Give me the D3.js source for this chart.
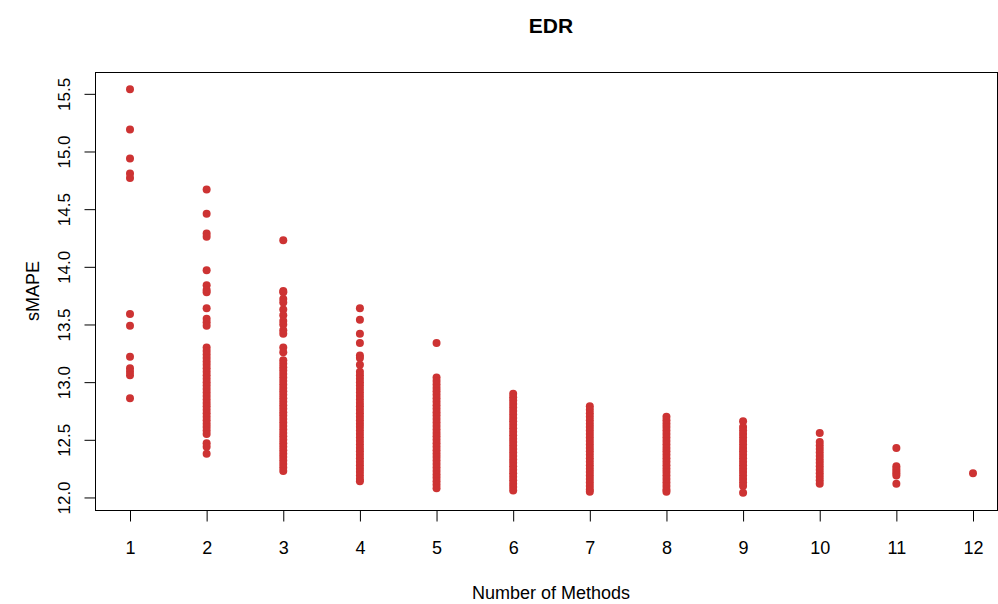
<!DOCTYPE html>
<html lang="en">
<head>
    <meta charset="UTF-8">
    <title>EDR</title>
    <script src="https://d3js.org/d3.v7.min.js"></script>
    <style>
        body { margin: 0; background: #fff; }
        svg text { font-family: "Liberation Sans", Arial, sans-serif; fill: #000; }
        .tick line, .domain { stroke: #000; }
    </style>
</head>
<body>
    <svg width="998" height="604" id="chart"></svg>

    <script>
        // number of methods combined (x categories)
        const methodCounts = [1, 2, 3, 4, 5, 6, 7, 8, 9, 10, 11, 12];
        const yTicks = [12.0, 12.5, 13.0, 13.5, 14.0, 14.5, 15.0, 15.5];

        // sMAPE values, one array per x category
        const smape1 = [15.54, 15.19, 14.94, 14.81, 14.77, 13.59, 13.49, 13.22, 13.12, 13.09, 13.06, 12.86];
        const smape2 = [14.67, 14.46, 14.29, 14.26, 13.97, 13.84, 13.80, 13.78, 13.64, 13.55, 13.52, 13.49,
            13.30, 13.27, 13.24, 13.21, 13.18, 13.15, 13.12, 13.09, 13.06, 13.03, 13.00, 12.97, 12.94,
            12.91, 12.88, 12.85, 12.82, 12.79, 12.76, 12.73, 12.70, 12.67, 12.64, 12.61, 12.58, 12.55,
            12.47, 12.44, 12.38];
        const smape3 = [14.23, 13.79, 13.78, 13.72, 13.69, 13.63, 13.58, 13.53, 13.50, 13.45, 13.42, 13.30, 13.26,
            13.19, 13.16, 13.13, 13.10, 13.07, 13.04, 13.01, 12.98, 12.95, 12.92, 12.89, 12.86, 12.83,
            12.80, 12.77, 12.74, 12.71, 12.68, 12.65, 12.62, 12.59, 12.56, 12.53, 12.50, 12.47, 12.44,
            12.41, 12.38, 12.35, 12.32, 12.29, 12.26, 12.23];
        const smape4 = [13.64, 13.54, 13.42, 13.34, 13.23, 13.21, 13.15,
            13.09, 13.06, 13.03, 13.00, 12.97, 12.94, 12.91, 12.88, 12.85, 12.82, 12.79, 12.76, 12.73,
            12.70, 12.67, 12.64, 12.61, 12.58, 12.55, 12.52, 12.49, 12.46, 12.43, 12.40, 12.37, 12.34,
            12.31, 12.28, 12.25, 12.22, 12.19, 12.16, 12.14];
        const smape5 = [13.34, 13.04, 13.01, 12.98, 12.95, 12.92, 12.89, 12.86, 12.83, 12.80, 12.77, 12.74,
            12.71, 12.68, 12.65, 12.62, 12.59, 12.56, 12.53, 12.50, 12.47, 12.44, 12.41, 12.38, 12.35,
            12.32, 12.29, 12.26, 12.23, 12.20, 12.17, 12.14, 12.11, 12.08];
        const smape6 = [12.90, 12.87, 12.84, 12.81, 12.78, 12.75, 12.72, 12.69, 12.66, 12.63, 12.60, 12.57,
            12.54, 12.51, 12.48, 12.45, 12.42, 12.39, 12.36, 12.33, 12.30, 12.27, 12.24, 12.21, 12.18,
            12.15, 12.12, 12.09, 12.06];
        const smape7 = [12.79, 12.76, 12.73, 12.70, 12.67, 12.64, 12.61, 12.58, 12.55, 12.52, 12.49, 12.46,
            12.43, 12.40, 12.37, 12.34, 12.31, 12.28, 12.25, 12.22, 12.19, 12.16, 12.13, 12.10, 12.07, 12.05];
        const smape8 = [12.70, 12.67, 12.64, 12.61, 12.58, 12.55, 12.52, 12.49, 12.46, 12.43, 12.40, 12.37,
            12.34, 12.31, 12.28, 12.25, 12.22, 12.19, 12.16, 12.13, 12.10, 12.07, 12.05];
        const smape9 = [12.66, 12.61, 12.58, 12.55, 12.52, 12.49, 12.46, 12.43, 12.40, 12.37, 12.34, 12.31,
            12.28, 12.25, 12.22, 12.19, 12.16, 12.13, 12.10, 12.04];
        const smape10 = [12.56, 12.48, 12.45, 12.42, 12.39, 12.36, 12.33, 12.30, 12.27, 12.24, 12.21, 12.18,
            12.15, 12.12];
        const smape11 = [12.43, 12.27, 12.25, 12.23, 12.21, 12.19, 12.12];
        const smape12 = [12.21];

        const allSeries = [smape1, smape2, smape3, smape4, smape5, smape6,
            smape7, smape8, smape9, smape10, smape11, smape12];

        // flatten into points
        const points = [];
        allSeries.forEach((vals, i) => {
            vals.forEach(v => points.push({n: methodCounts[i], v: v}));
        });

        const svg = d3.select('#chart');
        const plotLeft = 95.5, plotRight = 997.5, plotTop = 72.5, plotBottom = 510.5;

        const x = d3.scaleLinear().domain([1, 12]).range([130, 973]);
        const y = d3.scaleLinear().domain([11.887, 15.685]).range([plotBottom, plotTop]);

        // points
        svg.append("g")
            .selectAll("circle")
            .data(points)
            .join("circle")
            .attr("cx", d => x(d.n))
            .attr("cy", d => y(d.v))
            .attr("r", 4)
            .attr("fill", "#cd3333");

        // x axis
        const xAxis = svg.append("g")
            .attr("transform", `translate(0,${plotBottom})`)
            .call(d3.axisBottom(x).tickValues(methodCounts).tickSize(11).tickSizeOuter(0));
        xAxis.select(".domain").remove();
        xAxis.selectAll("text")
            .style("font-size", "18px")
            .attr("y", 43)
            .attr("dy", 0);

        // y axis
        const yAxis = svg.append("g")
            .attr("transform", `translate(${plotLeft},0)`)
            .call(d3.axisLeft(y).tickValues(yTicks).tickFormat(d3.format(".1f")).tickSize(11).tickSizeOuter(0));
        yAxis.select(".domain").remove();
        yAxis.selectAll("text")
            .style("font-size", "17px")
            .attr("text-anchor", "middle")
            .attr("x", 0)
            .attr("dy", 0)
            .attr("transform", "translate(-31,0) rotate(-90)")
            .attr("y", 5);

        // box
        svg.append("rect")
            .attr("x", plotLeft)
            .attr("y", plotTop)
            .attr("width", plotRight - plotLeft)
            .attr("height", plotBottom - plotTop)
            .attr("fill", "none")
            .attr("stroke", "#000")
            .attr("stroke-width", 1);

        // titles
        svg.append("text")
            .attr("x", 551)
            .attr("y", 33)
            .attr("text-anchor", "middle")
            .style("font-size", "21px")
            .style("font-weight", "bold")
            .text("EDR");

        svg.append("text")
            .attr("x", 551)
            .attr("y", 599)
            .attr("text-anchor", "middle")
            .style("font-size", "18px")
            .text("Number of Methods");

        svg.append("text")
            .attr("transform", "translate(39,291) rotate(-90)")
            .attr("text-anchor", "middle")
            .style("font-size", "18px")
            .text("sMAPE");
    </script>
</body>
</html>
